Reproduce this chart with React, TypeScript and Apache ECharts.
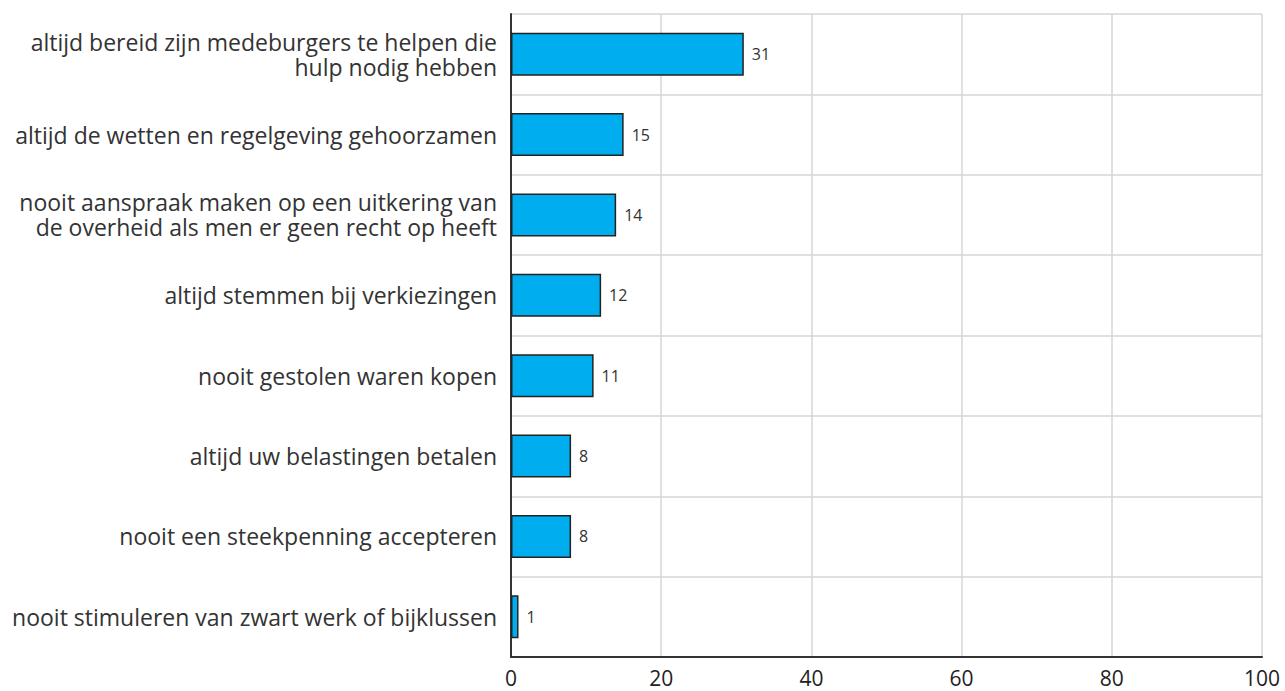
import React, { useEffect, useRef } from "react";
import * as echarts from "echarts";

const categories = [
  "altijd bereid zijn medeburgers te helpen die\nhulp nodig hebben",
  "altijd de wetten en regelgeving gehoorzamen",
  "nooit aanspraak maken op een uitkering van\nde overheid als men er geen recht op heeft",
  "altijd stemmen bij verkiezingen",
  "nooit gestolen waren kopen",
  "altijd uw belastingen betalen",
  "nooit een steekpenning accepteren",
  "nooit stimuleren van zwart werk of bijklussen",
];
const values = [31, 15, 14, 12, 11, 8, 8, 1];
const xMin = 0;
const xMax = 100;
const xInterval = 20;

const FONT = "'Open Sans', 'Noto Sans', sans-serif";
const LABEL_SIZE = 23;
const HALF_GAP = 12.5;

const labelStyle = {
  color: "#333",
  fontSize: LABEL_SIZE,
  fontFamily: FONT,
  lineHeight: LABEL_SIZE,
};

export default function App() {
  const ref = useRef<HTMLDivElement>(null);
  useEffect(() => {
    if (!ref.current) return;
    const chart = echarts.init(ref.current, undefined, { renderer: "svg" });
    const yBase = {
      type: "category",
      data: categories,
      inverse: true,
      position: "left",
      axisTick: { show: false },
    };
    chart.setOption({
      animation: false,
      grid: { left: 511, right: 23, top: 14, bottom: 34, containLabel: false },
      xAxis: {
        type: "value",
        min: xMin,
        max: xMax,
        interval: xInterval,
        axisLine: { show: true, lineStyle: { color: "#333", width: 2 } },
        axisTick: { show: false },
        axisLabel: { color: "#222", fontSize: 21, fontFamily: FONT, margin: 10 },
        splitLine: { show: true, lineStyle: { color: "#d6d6d6", width: 1.5 } },
      },
      yAxis: [
        {
          ...yBase,
          axisLine: { show: true, lineStyle: { color: "#333", width: 2 } },
          splitLine: { show: true, lineStyle: { color: "#d6d6d6", width: 1.5 } },
          axisLabel: {
            margin: 14,
            align: "right",
            formatter: (v: string) => {
              const parts = v.split("\n");
              return parts.length > 1 ? `{up|${parts[0]}}` : `{mid|${parts[0]}}`;
            },
            rich: {
              up: { ...labelStyle, padding: [0, 0, HALF_GAP * 2, 0] },
              mid: { ...labelStyle },
            },
          },
        },
        {
          ...yBase,
          axisLine: { show: false },
          splitLine: { show: false },
          axisLabel: {
            margin: 14,
            align: "right",
            formatter: (v: string) => {
              const parts = v.split("\n");
              return parts.length > 1 ? `{down|${parts[1]}}` : "";
            },
            rich: {
              down: { ...labelStyle, padding: [HALF_GAP * 2, 0, 0, 0] },
            },
          },
        },
      ],
      series: [
        {
          type: "bar",
          data: values,
          yAxisIndex: 0,
          barWidth: 43,
          itemStyle: { color: "#00aeef", borderColor: "#222", borderWidth: 1.5 },
          label: {
            show: true,
            position: "right",
            distance: 8,
            color: "#333",
            fontSize: 16,
            fontFamily: FONT,
          },
        },
      ],
    });
    return () => chart.dispose();
  }, []);
  return <div ref={ref} style={{ width: 1285, height: 691, position: "absolute", left: 0, top: 0 }} />;
}
